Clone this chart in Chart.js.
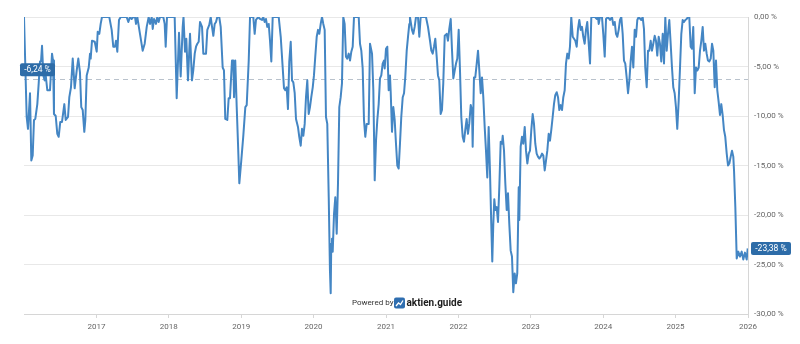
<!DOCTYPE html>
<html lang="de">
<head>
<meta charset="utf-8">
<title>Drawdown</title>
<script src="https://cdn.jsdelivr.net/npm/chart.js@4.4.1/dist/chart.umd.min.js"></script>
<style>
  html, body { margin: 0; padding: 0; background: #fff; }
  #wrap { width: 800px; height: 344px; position: relative; }
</style>
</head>
<body>
<div id="wrap"><canvas id="chart"></canvas></div>
<script>
(function () {
  "use strict";

  // Zeitpunkte (Dezimaljahre) und Drawdown in %
  const dates = [
    2016.000, 2016.037, 2016.055, 2016.083, 2016.101, 2016.120, 2016.138, 2016.156, 2016.184, 2016.203,
    2016.221, 2016.235, 2016.249, 2016.267, 2016.286, 2016.300, 2016.322, 2016.359, 2016.387, 2016.401,
    2016.414, 2016.438, 2016.460, 2016.479, 2016.501, 2016.525, 2016.557, 2016.576, 2016.608, 2016.626,
    2016.649, 2016.673, 2016.700, 2016.728, 2016.750, 2016.773, 2016.791, 2016.811, 2016.833, 2016.847,
    2016.866, 2016.894, 2016.912, 2016.921, 2016.939, 2016.977, 2017.004, 2017.018, 2017.040, 2017.059,
    2017.077, 2017.178, 2017.211, 2017.233, 2017.257, 2017.271, 2017.289, 2017.312, 2017.336, 2017.418,
    2017.441, 2017.464, 2017.488, 2017.510, 2017.533, 2017.547, 2017.565, 2017.602, 2017.639, 2017.667,
    2017.695, 2017.722, 2017.740, 2017.764, 2017.778, 2017.796, 2017.823, 2017.841, 2017.860, 2017.878,
    2017.924, 2017.943, 2017.957, 2017.975, 2018.081, 2018.109, 2018.141, 2018.164, 2018.192, 2018.203,
    2018.224, 2018.242, 2018.265, 2018.293, 2018.320, 2018.338, 2018.358, 2018.376, 2018.394, 2018.413,
    2018.431, 2018.459, 2018.477, 2018.514, 2018.532, 2018.559, 2018.579, 2018.597, 2018.615, 2018.634,
    2018.652, 2018.670, 2018.697, 2018.717, 2018.744, 2018.762, 2018.780, 2018.808, 2018.827, 2018.845,
    2018.873, 2018.891, 2018.901, 2018.918, 2018.938, 2018.956, 2018.974, 2019.001, 2019.029, 2019.057,
    2019.076, 2019.104, 2019.122, 2019.167, 2019.186, 2019.204, 2019.236, 2019.260, 2019.287, 2019.305,
    2019.324, 2019.342, 2019.360, 2019.380, 2019.398, 2019.416, 2019.435, 2019.518, 2019.546, 2019.573,
    2019.591, 2019.609, 2019.628, 2019.646, 2019.664, 2019.684, 2019.702, 2019.720, 2019.739, 2019.757,
    2019.784, 2019.802, 2019.822, 2019.840, 2019.858, 2019.877, 2019.895, 2019.913, 2019.932, 2019.950,
    2019.968, 2019.988, 2020.005, 2020.023, 2020.043, 2020.061, 2020.079, 2020.098, 2020.116, 2020.134,
    2020.153, 2020.171, 2020.189, 2020.209, 2020.226, 2020.236, 2020.244, 2020.254, 2020.264, 2020.282,
    2020.300, 2020.319, 2020.337, 2020.355, 2020.374, 2020.392, 2020.410, 2020.429, 2020.447, 2020.465,
    2020.485, 2020.503, 2020.521, 2020.540, 2020.558, 2020.623, 2020.641, 2020.659, 2020.678, 2020.696,
    2020.714, 2020.733, 2020.761, 2020.779, 2020.807, 2020.825, 2020.844, 2020.862, 2020.880, 2020.899,
    2020.917, 2020.935, 2020.954, 2020.972, 2020.982, 2021.000, 2021.018, 2021.037, 2021.055, 2021.065,
    2021.083, 2021.101, 2021.120, 2021.138, 2021.156, 2021.175, 2021.193, 2021.211, 2021.231, 2021.249,
    2021.266, 2021.286, 2021.304, 2021.322, 2021.331, 2021.359, 2021.377, 2021.396, 2021.414, 2021.442,
    2021.460, 2021.479, 2021.552, 2021.580, 2021.608, 2021.626, 2021.645, 2021.663, 2021.681, 2021.700,
    2021.718, 2021.736, 2021.755, 2021.773, 2021.791, 2021.811, 2021.838, 2021.856, 2021.874, 2021.894,
    2021.912, 2021.930, 2021.949, 2021.967, 2021.985, 2022.004, 2022.022, 2022.040, 2022.059, 2022.077,
    2022.095, 2022.114, 2022.132, 2022.150, 2022.170, 2022.188, 2022.197, 2022.215, 2022.233, 2022.253,
    2022.271, 2022.289, 2022.308, 2022.326, 2022.344, 2022.363, 2022.381, 2022.399, 2022.418, 2022.436,
    2022.454, 2022.468, 2022.482, 2022.496, 2022.510, 2022.529, 2022.547, 2022.565, 2022.584, 2022.602,
    2022.612, 2022.630, 2022.648, 2022.667, 2022.685, 2022.703, 2022.722, 2022.740, 2022.758, 2022.777,
    2022.795, 2022.813, 2022.833, 2022.841, 2022.860, 2022.878, 2022.896, 2022.916, 2022.934, 2022.952,
    2022.971, 2022.989, 2023.007, 2023.026, 2023.044, 2023.062, 2023.081, 2023.099, 2023.117, 2023.137,
    2023.155, 2023.173, 2023.192, 2023.210, 2023.228, 2023.247, 2023.265, 2023.283, 2023.302, 2023.320,
    2023.338, 2023.358, 2023.376, 2023.394, 2023.413, 2023.431, 2023.449, 2023.468, 2023.486, 2023.504,
    2023.523, 2023.541, 2023.559, 2023.579, 2023.597, 2023.615, 2023.634, 2023.652, 2023.670, 2023.689,
    2023.707, 2023.725, 2023.744, 2023.762, 2023.780, 2023.800, 2023.818, 2023.836, 2023.887, 2023.910,
    2023.928, 2023.938, 2023.956, 2023.983, 2024.001, 2024.021, 2024.039, 2024.066, 2024.094, 2024.121,
    2024.139, 2024.159, 2024.177, 2024.195, 2024.214, 2024.232, 2024.250, 2024.269, 2024.287, 2024.305,
    2024.324, 2024.343, 2024.361, 2024.380, 2024.398, 2024.416, 2024.435, 2024.453, 2024.471, 2024.490,
    2024.526, 2024.545, 2024.563, 2024.581, 2024.601, 2024.619, 2024.637, 2024.656, 2024.674, 2024.692,
    2024.711, 2024.729, 2024.747, 2024.766, 2024.784, 2024.802, 2024.822, 2024.840, 2024.858, 2024.877,
    2024.895, 2024.913, 2024.932, 2024.950, 2024.968, 2024.987, 2025.005, 2025.023, 2025.043, 2025.061,
    2025.079, 2025.098, 2025.116, 2025.134, 2025.153, 2025.171, 2025.189, 2025.208, 2025.226, 2025.244,
    2025.264, 2025.282, 2025.300, 2025.319, 2025.337, 2025.355, 2025.374, 2025.392, 2025.410, 2025.429,
    2025.447, 2025.465, 2025.485, 2025.503, 2025.521, 2025.540, 2025.558, 2025.576, 2025.595, 2025.613,
    2025.631, 2025.650, 2025.668, 2025.686, 2025.706, 2025.724, 2025.742, 2025.761, 2025.779, 2025.797,
    2025.807, 2025.825, 2025.844, 2025.866, 2025.889, 2025.913, 2025.935, 2025.958, 2025.982, 2025.996
  ];

  const drawdown = [
    0, -10.1, -11.3, -7.7, -14.5, -14.0, -10.4, -10.3, -8.8, -6.7,
    -4.5, -4.5, -2.9, -5.9, -6.4, -5.9, -7.4, -7.4, -3.7, -4.4,
    -9.8, -10.0, -11.8, -12.1, -10.6, -10.6, -8.8, -10.4, -10.1, -8.1,
    -7.1, -4.2, -7.2, -5.4, -4.2, -5.6, -9.1, -9.4, -11.6, -10.4,
    -5.9, -5.1, -3.7, -4.2, -2.4, -2.5, -3.5, -1.5, -1.7, -0.7,
    0, 0, -1.3, -3.0, -3.0, -2.4, -3.5, -0.3, 0, 0,
    -0.5, 0, -0.2, 0, 0, -0.7, 0, -1.7, -3.4, -2.7,
    -1.0, 0, -0.7, 0, -1.2, -0.2, -0.7, 0, -0.5, 0,
    0, -0.7, -3.0, 0, 0, -8.2, -1.6, -6.0, -1.0, 0,
    -3.5, -2.2, -6.4, -1.7, -6.4, -5.4, -3.7, -3.0, -2.7, -2.5,
    -0.5, -1.0, -3.7, -3.7, -1.3, -0.8, 0, -1.0, -1.9, -0.7,
    -0.5, 0, 0, -1.0, -5.1, -5.4, -10.3, -10.4, -8.2, -8.2,
    -4.4, -4.4, -8.1, -4.4, -9.1, -12.8, -16.8, -14.5, -12.0, -9.1,
    -8.9, -4.4, 0, 0, -1.7, -0.3, 0, -0.2, -0.3, 0,
    -0.5, -0.2, -1.0, -0.7, -2.4, -4.5, 0, 0, -2.0, -5.1,
    -7.2, -7.4, -7.1, -9.3, -4.5, -2.5, -6.4, -6.6, -7.7, -10.3,
    -11.1, -12.1, -13.0, -11.3, -12.0, -10.8, -8.1, -6.4, -9.8, -9.1,
    -8.1, -7.1, -5.9, -4.0, -2.0, -1.3, -1.7, -0.7, 0, -0.7,
    -1.3, -10.1, -10.8, -18.2, -25.6, -27.9, -22.9, -22.4, -23.7, -19.9,
    -18.2, -21.9, -16.8, -9.1, -8.1, -6.7, 0, -0.7, -4.0, -4.2,
    -3.7, -4.4, -3.5, -3.0, 0, 0, -2.7, -3.4, -5.2, -10.4,
    -12.1, -10.8, -10.8, -2.7, -3.7, -7.4, -16.5, -12.5, -10.4, -8.8,
    -6.2, -5.9, -4.7, -4.4, -5.2, -3.2, -3.0, -7.4, -5.9, -7.6,
    -11.6, -9.1, -10.4, -12.8, -15.0, -15.3, -12.8, -10.1, -8.1, -7.7,
    -6.1, -3.4, -2.0, -0.7, 0, -1.3, -1.7, -1.0, 0, 0,
    -2.0, 0, 0, -1.0, -2.4, -3.4, -3.7, -3.0, -2.2, -4.0,
    -5.9, -6.4, -9.8, -9.4, -6.7, -1.9, -1.7, -2.4, -1.2, -0.2,
    -3.4, -6.2, -5.4, -4.7, -4.2, -1.3, -5.4, -10.1, -12.1, -12.6,
    -11.4, -10.3, -11.8, -10.8, -8.9, -9.4, -13.1, -6.1, -6.1, -4.7,
    -3.4, -5.4, -7.7, -6.1, -8.1, -11.1, -13.5, -16.2, -11.1, -15.5,
    -20.9, -24.7, -20.9, -18.4, -19.5, -19.2, -20.7, -17.2, -12.6, -12.8,
    -12.0, -13.5, -16.8, -19.5, -17.8, -20.9, -23.6, -24.2, -27.8, -25.9,
    -26.9, -25.9, -17.2, -20.5, -13.1, -12.1, -12.8, -11.1, -13.5, -14.8,
    -13.8, -13.5, -11.4, -9.8, -10.8, -12.8, -13.8, -14.1, -14.3, -14.1,
    -13.8, -14.0, -15.5, -14.5, -13.5, -11.8, -12.5, -11.4, -10.1, -8.8,
    -7.9, -7.6, -8.1, -9.4, -8.9, -9.4, -8.1, -7.4, -4.7, -3.7,
    -4.2, -3.0, 0, -2.0, -2.2, -2.4, -3.0, -1.2, -0.3, -1.3,
    -1.0, -2.0, -2.7, -1.3, -0.5, -2.7, -4.7, 0, 0, -0.2,
    0, -0.7, 0, 0, -1.7, -4.0, -0.2, 0, -0.3, 0,
    -0.8, -0.5, -1.7, -2.0, -1.3, -0.3, 0, -1.7, -4.4, -4.7,
    -6.1, -7.7, -6.4, -4.4, -3.0, -5.1, -1.3, -2.0, -0.3, 0,
    -0.3, 0, -1.2, -5.1, -7.1, -3.4, -3.4, -2.4, -3.4, -2.7,
    -1.9, -2.4, -3.9, -2.0, -2.7, -4.5, -1.7, -4.7, 0, -3.4,
    -1.7, -0.3, -2.7, -5.1, -7.1, -7.7, -9.1, -11.3, -8.4, -5.1,
    -1.7, -0.3, -0.5, -0.3, -0.2, 0, 0, -3.0, -3.2, -1.0,
    -7.7, -5.1, -5.4, -5.1, -3.4, -2.4, -1.0, -3.4, -2.7, -3.7,
    -4.4, -4.5, -4.2, -2.7, -3.4, -7.1, -4.4, -7.4, -8.6, -9.9,
    -8.8, -9.9, -11.4, -12.1, -13.8, -15.0, -14.8, -14.1, -13.5, -14.1,
    -15.5, -19.2, -24.4, -23.7, -24.2, -23.7, -24.5, -23.8, -24.5, -23.38
  ];

  const yearTicks = [2017, 2018, 2019, 2020, 2021, 2022, 2023, 2024, 2025, 2026];
  const avgDrawdown = -6.24;

  const LINE = "#4486c4";
  const BADGE = "#2d6ca8";
  const FONT = "Roboto, 'Noto Sans', sans-serif";

  function fmtPct(v) {
    const s = Math.abs(v) < 1e-9 ? "0,00" : v.toFixed(2).replace(".", ",");
    return s + " %";
  }

  function badge(ctx, text, x, yc, w) {
    const h = 13;
    ctx.fillStyle = BADGE;
    ctx.beginPath();
    ctx.roundRect(x, yc - h / 2, w, h, 2);
    ctx.fill();
    ctx.fillStyle = "#fff";
    ctx.font = "8.5px " + FONT;
    ctx.textAlign = "center";
    ctx.textBaseline = "middle";
    ctx.fillText(text, x + w / 2, yc + 0.5);
  }

  const overlay = {
    id: "overlay",
    beforeDatasetsDraw(chart) {
      const { ctx, chartArea: a, scales } = chart;
      const py = Math.round(scales.y.getPixelForValue(avgDrawdown)) + 0.5;
      ctx.save();
      ctx.strokeStyle = "#b9c2cc";
      ctx.lineWidth = 1;
      ctx.setLineDash([5, 4]);
      ctx.beginPath();
      ctx.moveTo(a.left, py);
      ctx.lineTo(a.right, py);
      ctx.stroke();
      ctx.restore();
    },
    afterDatasetsDraw(chart) {
      const { ctx, chartArea: a, scales } = chart;
      ctx.save();
      const py = scales.y.getPixelForValue(avgDrawdown);
      badge(ctx, fmtPct(avgDrawdown), a.left - 4, py - 9, 35);
      const last = drawdown[drawdown.length - 1];
      badge(ctx, fmtPct(last), a.right + 3, scales.y.getPixelForValue(last), 40);

      // Powered by aktien.guide
      const cx = (a.left + a.right) / 2;
      const wy = a.bottom - 11;
      ctx.textBaseline = "middle";
      ctx.textAlign = "left";
      ctx.fillStyle = "#333";
      ctx.font = "8px " + FONT;
      ctx.fillText("Powered by", cx - 34, wy);
      const ix = cx + 8, iy = wy - 5.5;
      ctx.fillStyle = "#2f6eb0";
      ctx.beginPath();
      ctx.roundRect(ix, iy, 11, 11, 2);
      ctx.fill();
      ctx.strokeStyle = "#fff";
      ctx.lineWidth = 1.3;
      ctx.beginPath();
      ctx.moveTo(ix + 2, iy + 8.5);
      ctx.lineTo(ix + 4.5, iy + 5.5);
      ctx.lineTo(ix + 6.5, iy + 7);
      ctx.lineTo(ix + 9, iy + 3);
      ctx.stroke();
      ctx.fillStyle = "#1d1d1d";
      ctx.font = "bold 10px " + FONT;
      ctx.fillText("aktien.guide", ix + 12.5, wy);
      ctx.restore();
    },
  };

  new Chart(document.getElementById("chart"), {
    type: "line",
    data: {
      datasets: [
        {
          data: dates.map((d, i) => ({ x: d, y: drawdown[i] })),
          borderColor: LINE,
          borderWidth: 2,
          borderJoinStyle: "round",
          pointRadius: 0,
          tension: 0,
          fill: false,
        },
      ],
    },
    options: {
      responsive: true,
      maintainAspectRatio: false,
      animation: false,
      layout: { padding: { left: 24, top: 17, right: 0, bottom: 0 } },
      plugins: { legend: { display: false }, tooltip: { enabled: false } },
      scales: {
        x: {
          type: "linear",
          min: 2016,
          max: 2026,
          afterBuildTicks(scale) {
            scale.ticks = yearTicks.map((v) => ({ value: v }));
          },
          afterFit(scale) {
            scale.height = 30;
          },
          grid: { drawOnChartArea: false, drawTicks: true, tickLength: 4, color: "#d6d6d6" },
          border: { display: true, color: "#d6d6d6" },
          ticks: {
            color: "#666",
            font: { family: FONT, size: 8 },
            padding: 4,
            maxRotation: 0,
            autoSkip: false,
            callback: (v) => String(v),
          },
        },
        y: {
          position: "right",
          min: -30,
          max: 0,
          afterFit(scale) {
            scale.width = 52;
          },
          grid: { color: "#e8e8e8", drawTicks: false },
          border: { display: true, color: "#d6d6d6" },
          ticks: {
            stepSize: 5,
            color: "#666",
            font: { family: FONT, size: 8 },
            padding: 6,
            callback: (v) => fmtPct(v),
          },
        },
      },
    },
    plugins: [overlay],
  });
})();
</script>
</body>
</html>
